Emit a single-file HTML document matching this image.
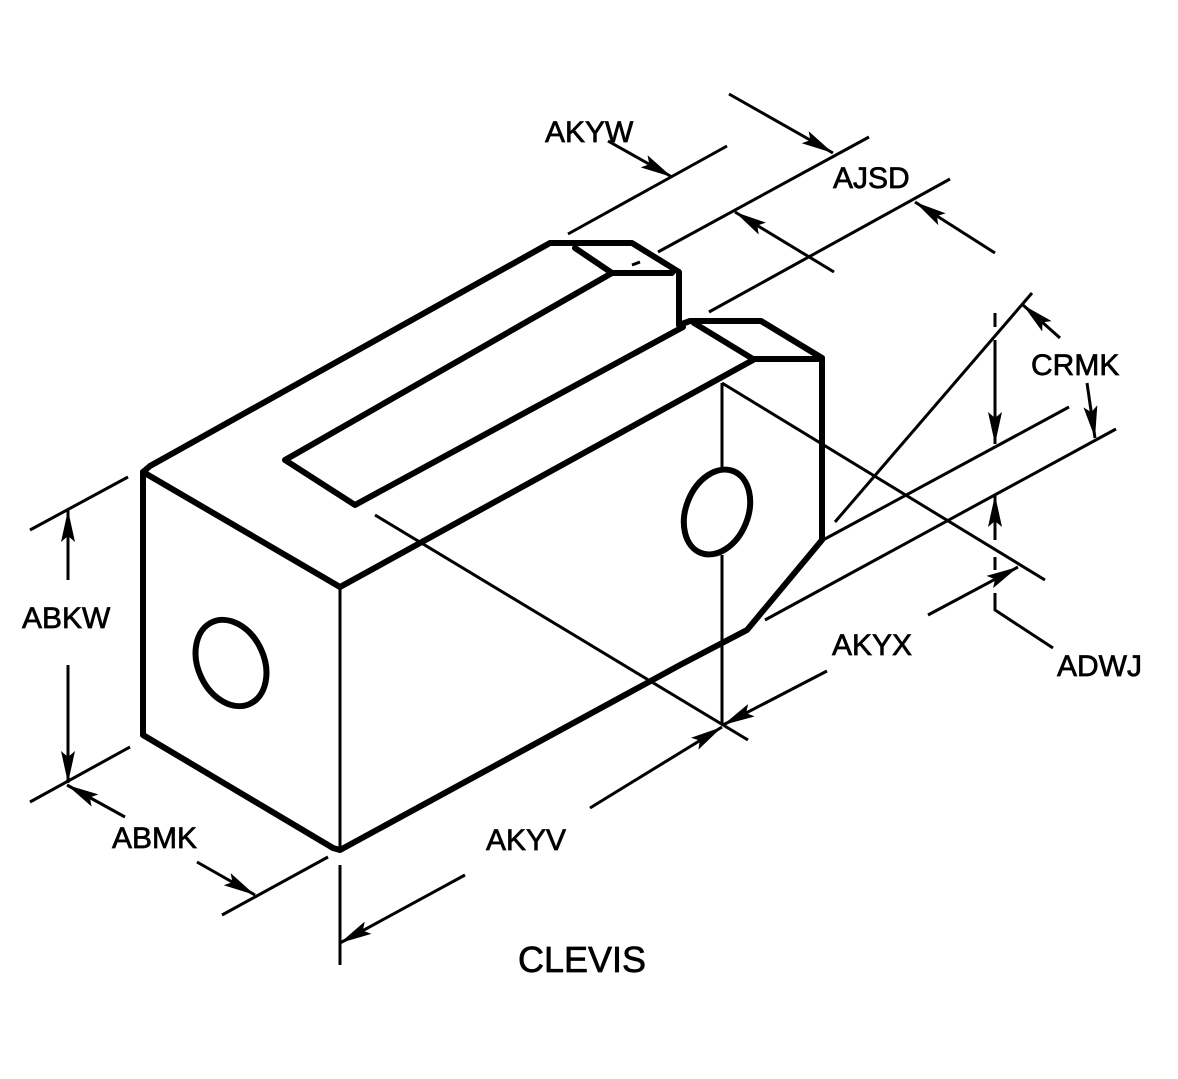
<!DOCTYPE html>
<html><head><meta charset="utf-8"><style>
html,body{margin:0;padding:0;background:#fff;}
svg{display:block;}
text{font-family:"Liberation Sans",Arial,sans-serif;fill:#000;stroke:#000;stroke-width:0.7;}
</style></head><body>
<svg width="1178" height="1079" viewBox="0 0 1178 1079" xmlns="http://www.w3.org/2000/svg">
<defs>
<marker id="a" markerWidth="34" markerHeight="14" refX="32" refY="7" orient="auto" markerUnits="userSpaceOnUse">
<path d="M0,0 L32,7 L0,14 L6,7 Z" fill="#000"/>
</marker>
</defs>
<g fill="none" stroke="#000" stroke-width="6" stroke-linejoin="round" stroke-linecap="round">
<path d="M143,472 L143,735 L333,848 L340,850"/>
<path d="M143,472 L340,587"/>
<path d="M143,472 L150,466 L550,243 L632,243 L679,272 L679,325"/>
<path d="M575,248 L612,273 L672,273"/>
<path d="M612,273 L285,460 L355,505 L683,327"/>
<path d="M679,325 L690,321 L761,321 L822,358"/>
<path d="M694,323 L753,359 L822,359"/>
<path d="M340,587 L753,360"/>
<path d="M822,358 L822,540 L747,630 L680,665 L340,850"/>
<ellipse cx="231" cy="663" rx="33" ry="45" transform="rotate(-25 231 663)"/>
<ellipse cx="717" cy="512" rx="31" ry="44" transform="rotate(22 717 512)"/>
</g>
<g fill="none" stroke="#000" stroke-width="3">
<path d="M340,587 L340,850"/>
<path d="M722,383 L722,470 M722,555 L722,725"/>
<path d="M722,383 L1045,580"/>
<path d="M375,515 L748,740"/>
<path d="M30,530 L128,477 M30,802 L130,747"/>
<path d="M68,580 L68,510" marker-end="url(#a)"/>
<path d="M68,665 L68,783" marker-end="url(#a)"/>
<path d="M125,817 L67,785" marker-end="url(#a)"/>
<path d="M197,862 L255,895" marker-end="url(#a)"/>
<path d="M222,915 L328,857"/>
<path d="M340,865 L340,965"/>
<path d="M465,875 L340,943" marker-end="url(#a)"/>
<path d="M590,808 L722,727" marker-end="url(#a)"/>
<path d="M827,671 L723,725" marker-end="url(#a)"/>
<path d="M928,615 L1018,567" marker-end="url(#a)"/>
<path d="M765,620 L1116,429"/>
<path d="M823,540 L1069,407"/>
<path d="M1032,293 L835,522"/>
<path d="M1060,338 L1023,305" marker-end="url(#a)"/>
<path d="M1087,383 L1095,438" marker-end="url(#a)"/>
<path d="M995,313 L995,327 M995,557 L995,570"/>
<path d="M995,340 L995,444" marker-end="url(#a)"/>
<path d="M995,540 L995,495" marker-end="url(#a)"/>
<path d="M995,593 L995,610 L1053,648"/>
<path d="M608,141 L672,177" marker-end="url(#a)"/>
<path d="M727,146 L568,234"/>
<path d="M729,94 L833,153" marker-end="url(#a)"/>
<path d="M869,137 L658,252"/>
<path d="M950,179 L709,312"/>
<path d="M834,272 L735,212" marker-end="url(#a)"/>
<path d="M995,253 L915,202" marker-end="url(#a)"/>
<path d="M632,265 L640,262"/>
</g>
<g font-size="30">
<text x="545" y="142">AKYW</text>
<text x="833" y="188">AJSD</text>
<text x="1031" y="375">CRMK</text>
<text x="22" y="628">ABKW</text>
<text x="832" y="655">AKYX</text>
<text x="1057" y="676">ADWJ</text>
<text x="112" y="848">ABMK</text>
<text x="486" y="850">AKYV</text>
</g>
<text x="518" y="972" font-size="36">CLEVIS</text>
</svg>
</body></html>
